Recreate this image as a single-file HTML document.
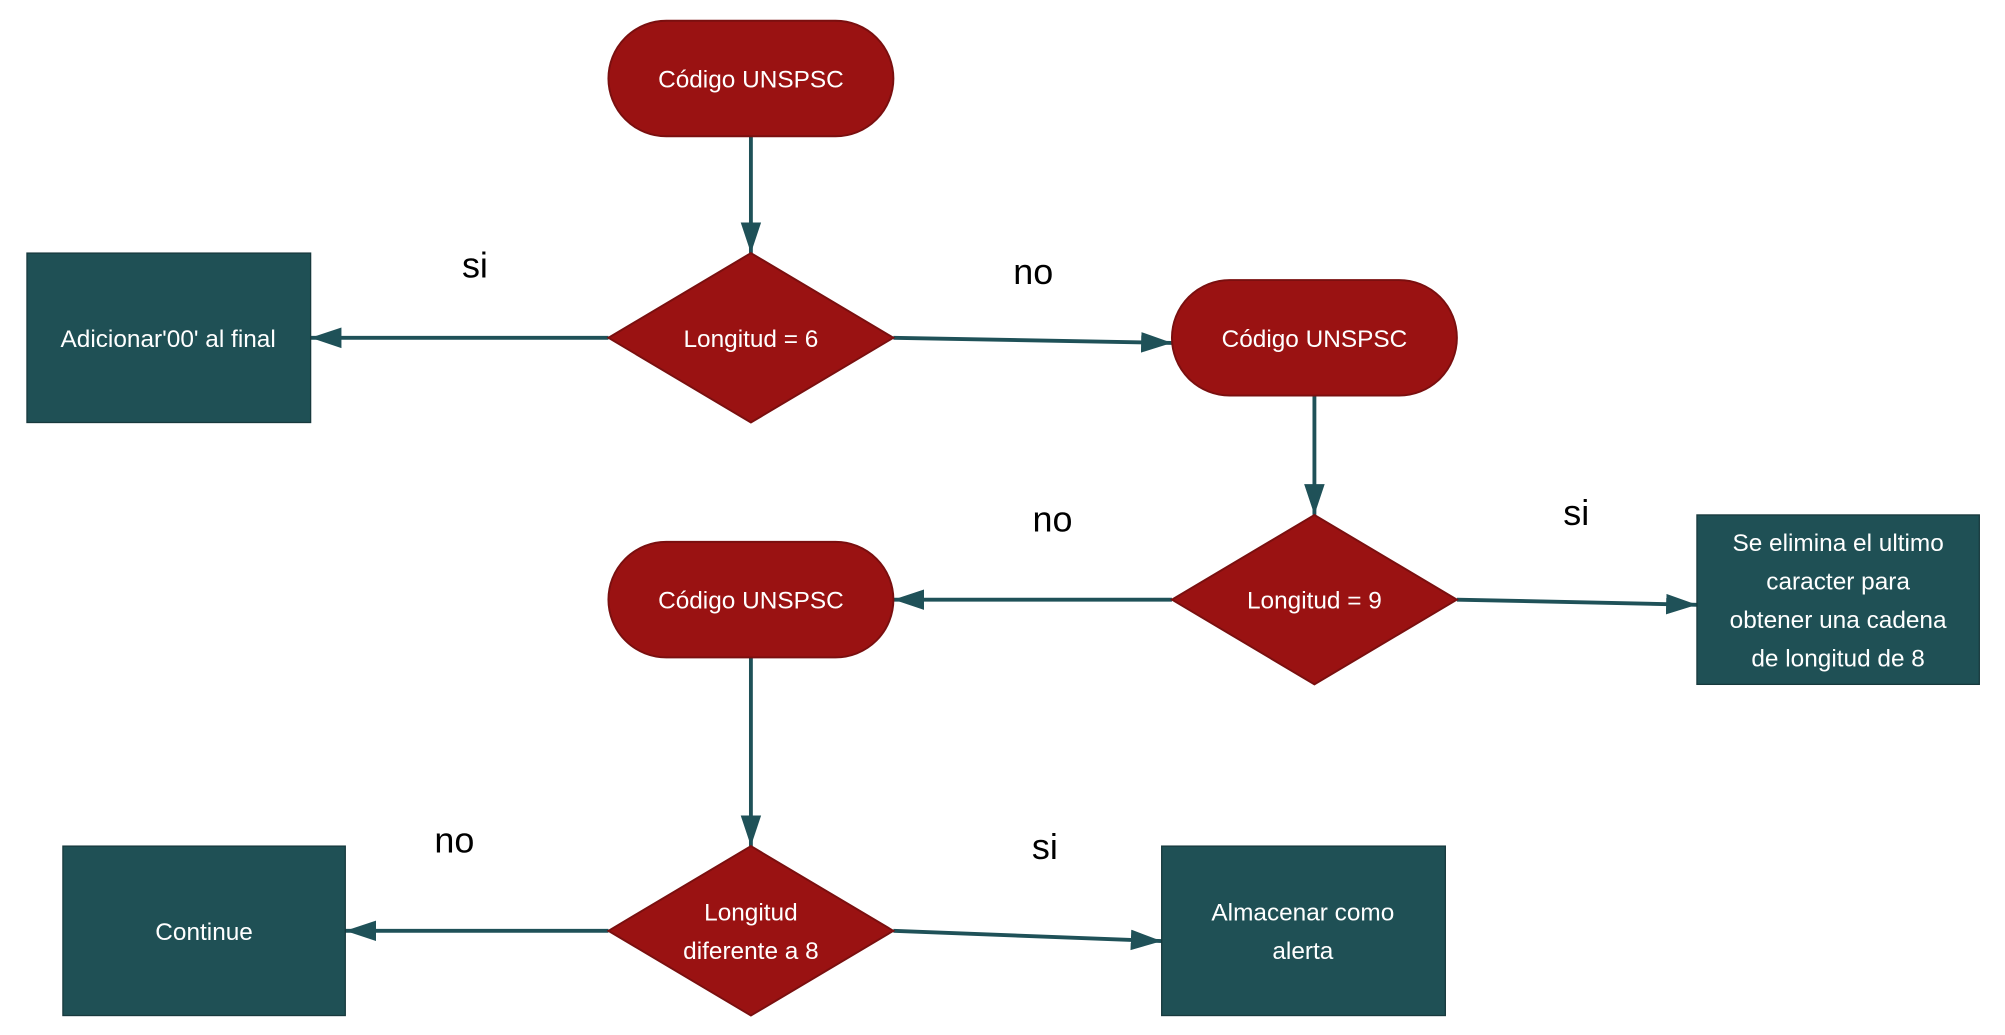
<!DOCTYPE html>
<html><head><meta charset="utf-8"><style>html,body{margin:0;padding:0;background:#fff}svg{display:block}</style></head><body>
<svg width="2005" height="1035" viewBox="0 0 1562 806" xmlns="http://www.w3.org/2000/svg">
<defs><marker id="a" markerWidth="10" markerHeight="10" refX="9" refY="5" orient="auto" markerUnits="userSpaceOnUse" viewBox="0 0 10 10"><path d="M0,0 L10,5 L0,10 z" fill="#1f5158"/></marker>
<marker id="b" markerWidth="24" markerHeight="24" refX="24" refY="12" orient="auto" markerUnits="userSpaceOnUse" viewBox="0 0 24 24"><path d="M0,4 L24,12 L0,20 z" fill="#1f5158"/></marker></defs>
<g stroke="#1f5158" stroke-width="3" fill="none" marker-end="url(#b)">
<line x1="585" y1="106" x2="585" y2="197"/>
<line x1="474" y1="263" x2="242" y2="263"/>
<line x1="696" y1="263" x2="913" y2="267"/>
<line x1="1024" y1="308" x2="1024" y2="401"/>
<line x1="913" y1="467" x2="696" y2="467"/>
<line x1="1135" y1="467" x2="1322" y2="471"/>
<line x1="585" y1="512" x2="585" y2="659"/>
<line x1="474" y1="725" x2="269" y2="725"/>
<line x1="696" y1="725" x2="905" y2="733"/>
</g>
<g fill="#9a1212" stroke="#7a0f0f" stroke-width="1.5">
<rect x="474" y="16" width="222" height="90" rx="45"/>
<rect x="913" y="218" width="222" height="90" rx="45"/>
<rect x="474" y="422" width="222" height="90" rx="45"/>
<polygon points="585,197 696,263 585,329 474,263"/>
<polygon points="1024,401 1135,467 1024,533 913,467"/>
<polygon points="585,659 696,725 585,791 474,725"/>
</g>
<g fill="#1f5055" stroke="#17393d" stroke-width="1">
<rect x="21" y="197" width="221" height="132"/>
<rect x="1322" y="401" width="220" height="132"/>
<rect x="49" y="659" width="220" height="132"/>
<rect x="905" y="659" width="221" height="132"/>
</g>
<g fill="#fff" font-family="Liberation Sans, sans-serif" font-size="19" text-anchor="middle">
<text x="585" y="68">Código UNSPSC</text>
<text x="1024" y="270">Código UNSPSC</text>
<text x="585" y="474">Código UNSPSC</text>
<text x="585" y="270">Longitud = 6</text>
<text x="1024" y="474">Longitud = 9</text>
<text x="585" y="717">Longitud</text>
<text x="585" y="747">diferente a 8</text>
<text x="131" y="270">Adicionar'00' al final</text>
<text x="1432" y="429">Se elimina el ultimo</text>
<text x="1432" y="459">caracter para</text>
<text x="1432" y="489">obtener una cadena</text>
<text x="1432" y="519">de longitud de 8</text>
<text x="159" y="732">Continue</text>
<text x="1015" y="717">Almacenar como</text>
<text x="1015" y="747">alerta</text>
</g>
<g fill="#000" font-family="Liberation Sans, sans-serif" font-size="28" text-anchor="middle">
<text x="370" y="216">si</text>
<text x="805" y="221">no</text>
<text x="820" y="414">no</text>
<text x="1228" y="409">si</text>
<text x="354" y="664">no</text>
<text x="814" y="669">si</text>
</g>
</svg>
</body></html>
